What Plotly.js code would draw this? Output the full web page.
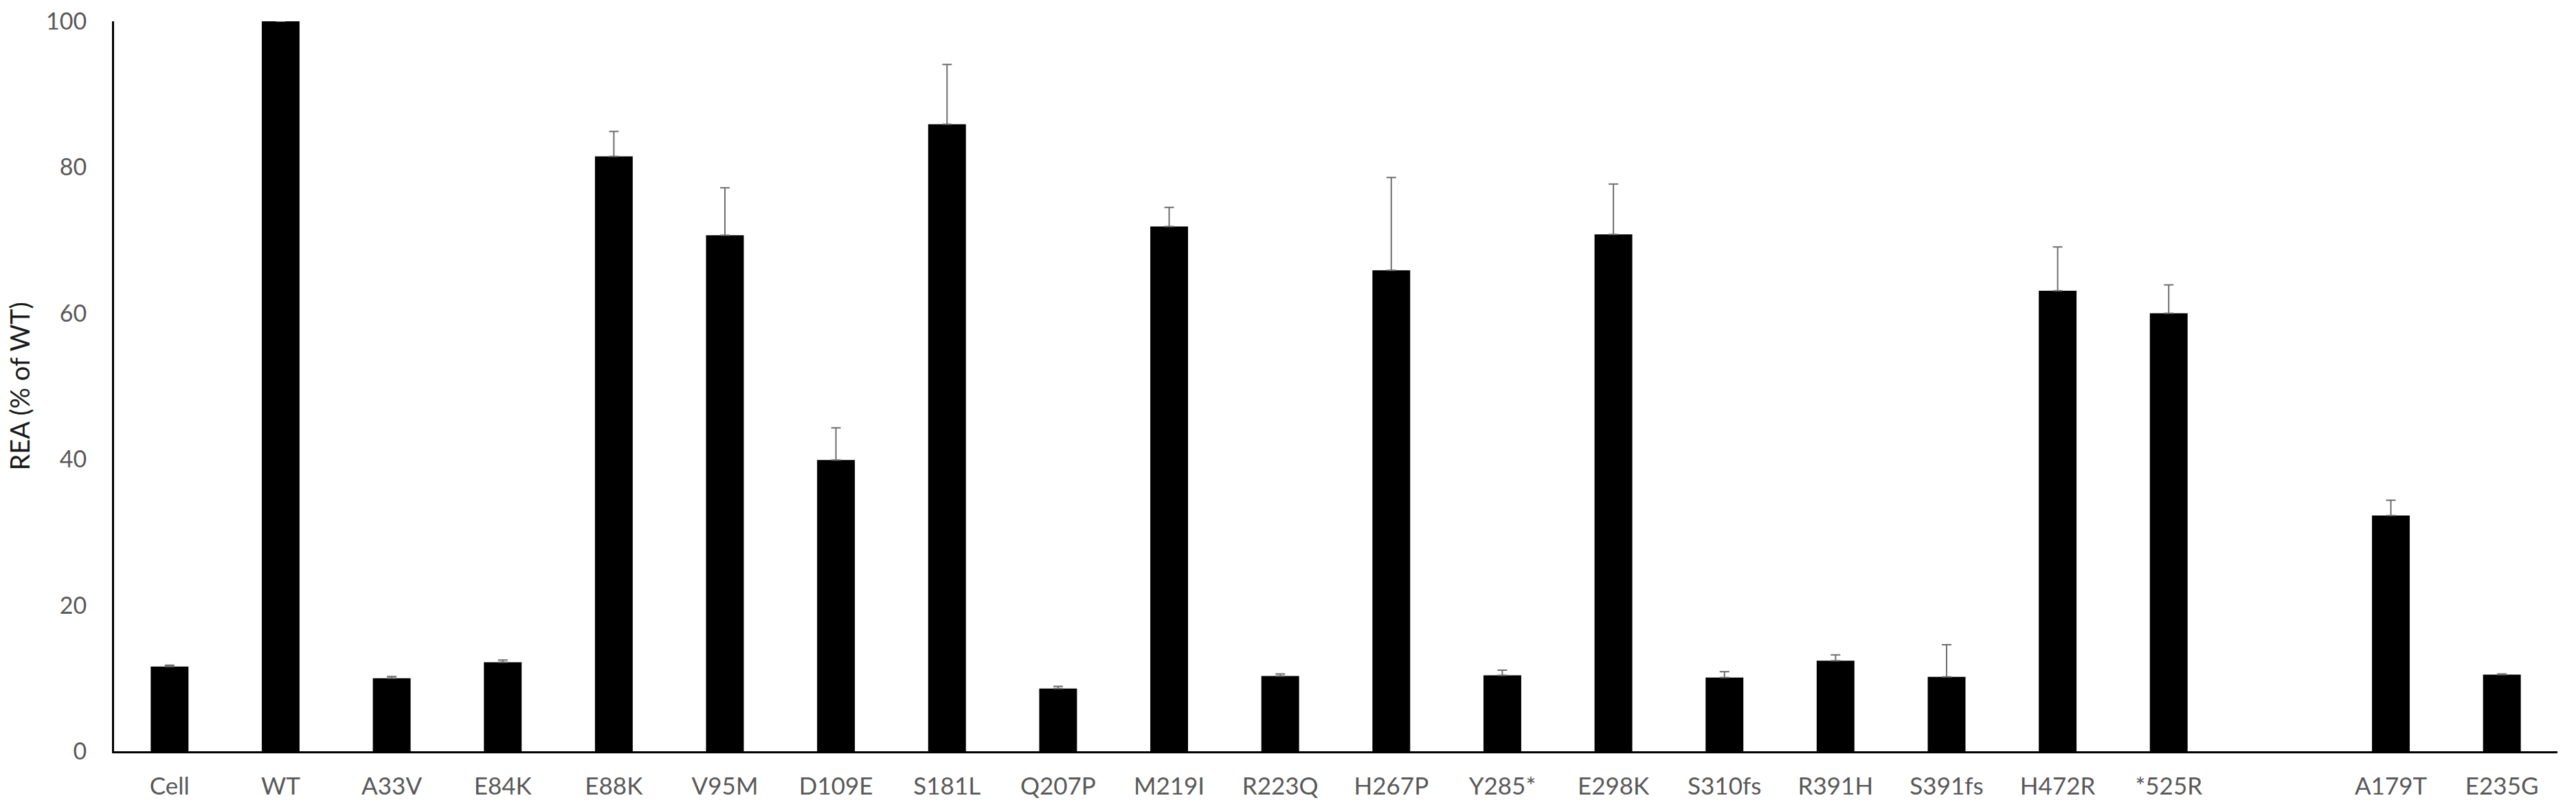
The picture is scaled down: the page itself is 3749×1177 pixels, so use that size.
<!DOCTYPE html>
<html>
<head>
<meta charset="utf-8">
<script src="https://cdn.plot.ly/plotly-3.0.1.min.js"></script>
<style>
  html, body { margin: 0; padding: 0; background: #fff; }
  #chart { width: 3749px; height: 1177px; }
</style>
</head>
<body>
<div id="chart"></div>
<script>
// variants in plot order, ' ' is the empty slot between *525R and A179T
const variants = ['Cell', 'WT', 'A33V', 'E84K', 'E88K', 'V95M', 'D109E', 'S181L', 'Q207P', 'M219I',
	'R223Q', 'H267P', 'Y285*', 'E298K', 'S310fs', 'R391H', 'S391fs', 'H472R', '*525R', ' ', 'A179T', 'E235G'];

// REA (% of WT)
const rea = [11.6, 100, 10.0, 12.2, 81.5, 70.7, 39.9, 85.9, 8.6, 71.9,
	10.3, 65.9, 10.4, 70.8, 10.1, 12.4, 10.2, 63.1, 60.0, null, 32.3, 10.5];

// upper error bars
const reaErr = [0.2, 0, 0.25, 0.3, 3.4, 6.5, 4.4, 8.2, 0.3, 2.6,
	0.3, 12.7, 0.7, 6.9, 0.8, 0.8, 4.4, 6.0, 3.9, null, 2.1, 0.1];

const yTicks = [0, 20, 40, 60, 80, 100];

let trace = {
	x: variants,
	y: rea,
	type: 'bar',
	marker: { color: '#000000', line: { width: 0 } },
	error_y: {
		type: 'data',
		symmetric: false,
		array: reaErr,
		arrayminus: reaErr.map(() => 0),
		color: '#6e6e6e',
		thickness: 2,
		width: 7
	},
	hoverinfo: 'x+y'
};

var layout = {
	width: 3749,
	height: 1177,
	margin: { l: 166, r: 27, t: 31, b: 84 },
	paper_bgcolor: '#ffffff',
	plot_bgcolor: '#ffffff',
	showlegend: false,
	bargap: 0.66,
	font: { family: 'Lato, "Open Sans", sans-serif', color: '#595959', size: 34 },
	xaxis: {
		type: 'category',
		categoryorder: 'array',
		categoryarray: variants,
		range: [-0.5, variants.length - 0.5],
		showline: true,
		linecolor: '#000000',
		linewidth: 3,
		showgrid: false,
		zeroline: false,
		ticks: '',
		ticklabelstandoff: 18,
		tickfont: { size: 35, color: '#595959' },
		automargin: false
	},
	yaxis: {
		range: [0, 100],
		tickvals: yTicks,
		showline: true,
		linecolor: '#000000',
		linewidth: 3,
		showgrid: false,
		zeroline: false,
		ticks: '',
		ticklabelstandoff: 30,
		tickfont: { size: 34, color: '#595959' },
		title: { text: 'REA (% of WT)', font: { size: 38, color: '#1a1a1a' }, standoff: 12 },
		automargin: false
	}
};

Plotly.newPlot('chart', [trace], layout, { displayModeBar: false, staticPlot: true });
</script>
</body>
</html>
